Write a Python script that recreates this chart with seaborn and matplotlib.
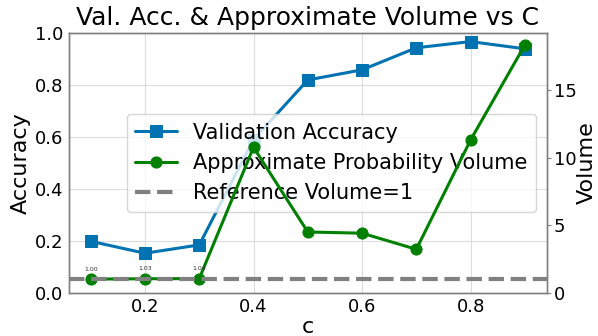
import matplotlib
matplotlib.use("Agg")
import matplotlib.pyplot as plt
import seaborn as sns
import pandas as pd

c_values = [0.1, 0.2, 0.3, 0.4, 0.5, 0.6, 0.7, 0.8, 0.9]
val_accuracy = [0.198, 0.152, 0.184, 0.59, 0.82, 0.859, 0.944, 0.968, 0.94]
approx_volume = [1.00, 1.03, 1.04, 10.76, 4.49, 4.40, 3.21, 11.30, 18.33]
reference_volume = 1.0

sns.set_style("whitegrid")
plt.rcParams['font.family'] = ['DejaVu Sans']
plt.rcParams['text.color'] = 'black'
plt.rcParams['axes.labelcolor'] = 'black'

df = pd.DataFrame({"c": c_values, "acc": val_accuracy, "vol": approx_volume})

fig, ax1 = plt.subplots(figsize=(5.98, 3.36), dpi=100)
fig.subplots_adjust(left=0.1154, right=0.914, top=0.901, bottom=0.129)

sns.lineplot(data=df, x="c", y="acc", ax=ax1, color="#0173b2", marker="s",
             markersize=9, linewidth=2.2, markeredgecolor="#0173b2",
             label="Validation Accuracy", legend=False)
ax1.set_ylim(0, 1.0)
ax1.set_xlabel("c", fontsize=16, labelpad=0.5)
ax1.set_ylabel("Accuracy", fontsize=16, labelpad=3)
ax1.tick_params(axis="both", labelsize=13, colors="black", left=False, bottom=False,
                length=0, pad=4)
ax1.grid(True, color="#dcdcdc", linewidth=0.8)

ax2 = ax1.twinx()
sns.lineplot(data=df, x="c", y="vol", ax=ax2, color="green", marker="o",
             markersize=8, linewidth=2.2, markeredgecolor="green",
             label="Approximate Probability Volume", legend=False)
ref = ax2.axhline(reference_volume, color="gray", linestyle="--", linewidth=3,
                  label="Reference Volume=1")
ax2.set_ylim(bottom=0)
ax2.set_ylabel("Volume", fontsize=16, labelpad=0)
ax2.grid(False)
ax2.tick_params(axis="y", labelsize=13, colors="black", right=True, length=3,
                width=0.8, color="gray", pad=2)

for x, v in zip(c_values[:3], approx_volume[:3]):
    ax2.annotate(f"{v:.2f}", (x, v), textcoords="offset points", xytext=(0, 6),
                 ha="center", fontsize=4.5, color="#333333")

for ax in (ax1, ax2):
    for s in ax.spines.values():
        s.set_color("gray")
        s.set_linewidth(1.0)

h1, l1 = ax1.get_legend_handles_labels()
h2, l2 = ax2.get_legend_handles_labels()
leg = ax1.legend(h1 + h2, l1 + l2, loc="center right", fontsize=15, framealpha=0.8)

ax1.set_title("Val. Acc. & Approximate Volume vs C", fontsize=18, color="black")

fig.savefig("out.png", dpi=100)
